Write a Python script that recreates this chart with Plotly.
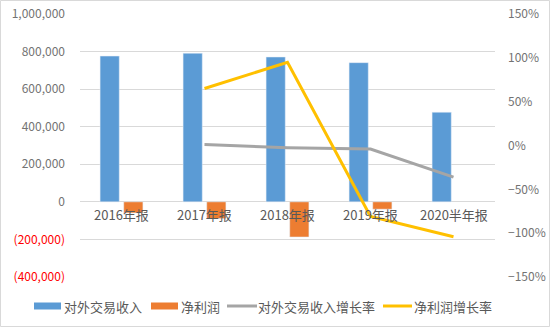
import plotly.graph_objects as go

categories = ["2016年报", "2017年报", "2018年报", "2019年报", "2020半年报"]
revenue = [776000, 791000, 771000, 741000, 477000]
net_profit = [-59000, -89000, -187000, -39000, None]
revenue_growth = [None, 0.01, -0.025, -0.04, -0.36]
profit_growth = [None, 0.65, 0.95, -0.81, -1.04]

series_names = ["对外交易收入", "净利润", "对外交易收入增长率", "净利润增长率"]
series_colors = ["#5B9BD5", "#ED7D31", "#A5A5A5", "#FFC000"]

left_ticks = [-400000, -200000, 0, 200000, 400000, 600000, 800000, 1000000]
left_text = ["<span style='color:#FF0000'>(400,000)</span>",
             "<span style='color:#FF0000'>(200,000)</span>",
             "0", "200,000", "400,000", "600,000", "800,000", "1,000,000"]

font = "Noto Sans CJK SC"
grey_text = "#595959"
tick_grey = "#737373"

fig = go.Figure()
fig.add_trace(go.Bar(x=categories, y=revenue, name=series_names[0],
                     marker_color=series_colors[0]))
fig.add_trace(go.Bar(x=categories, y=net_profit, name=series_names[1],
                     marker_color=series_colors[1]))
fig.add_trace(go.Scatter(x=categories, y=revenue_growth, name=series_names[2],
                         mode="lines", line=dict(color=series_colors[2], width=3),
                         yaxis="y2"))
fig.add_trace(go.Scatter(x=categories, y=profit_growth, name=series_names[3],
                         mode="lines", line=dict(color=series_colors[3], width=3),
                         yaxis="y2"))

# category labels sit on the zero line, spreadsheet style
for c in categories:
    fig.add_annotation(x=c, y=0, xref="x", yref="y", text=c, showarrow=False,
                       yanchor="top", yshift=-1,
                       font=dict(family=font, size=13, color=grey_text))

W, H = 552, 329
L, R, T, B = 80, 57, 14, 52
pw, ph = W - L - R, H - T - B


def px(x):
    return (x - L) / pw


def py(y):
    return (H - B - y) / ph


# chart border
fig.add_shape(type="rect", xref="paper", yref="paper",
              x0=px(0.5), x1=px(W - 2.5), y0=py(H - 2.5), y1=py(0.5),
              line=dict(color="#D9D9D9", width=1), layer="below")

# legend drawn along the bottom edge: swatch start, swatch end, text start
legend_slots = [(34, 61, 64), (151, 178, 181), (227, 257, 258), (383, 412, 414)]
legend_y = 306
for i, (x0, x1, tx) in enumerate(legend_slots):
    if i < 2:
        fig.add_shape(type="rect", xref="paper", yref="paper",
                      x0=px(x0), x1=px(x1), y0=py(legend_y + 3.5), y1=py(legend_y - 3.5),
                      fillcolor=series_colors[i], line=dict(width=0))
    else:
        fig.add_shape(type="line", xref="paper", yref="paper",
                      x0=px(x0), x1=px(x1), y0=py(legend_y), y1=py(legend_y),
                      line=dict(color=series_colors[i], width=3))
    fig.add_annotation(xref="paper", yref="paper", x=px(tx), y=py(legend_y),
                       text=series_names[i], showarrow=False,
                       xanchor="left", yanchor="middle", xshift=-2,
                       font=dict(family=font, size=13, color=grey_text))

fig.update_layout(
    width=W, height=H,
    margin=dict(l=L, r=R, t=T, b=B, autoexpand=False),
    paper_bgcolor="white", plot_bgcolor="white",
    barmode="group", bargap=0.43, bargroupgap=0.19,
    font=dict(family=font, size=12, color=grey_text),
    showlegend=False,
    xaxis=dict(showticklabels=False, showgrid=False, zeroline=False,
               showline=False, ticks="", automargin=False),
    yaxis=dict(range=[-400000, 1000000], tickvals=left_ticks, ticktext=left_text,
               showgrid=True, gridcolor="#D9D9D9", gridwidth=1,
               zeroline=True, zerolinecolor="#D9D9D9", zerolinewidth=1,
               ticks="", ticklabelstandoff=14, automargin=False,
               tickfont=dict(family=font, size=12, color=tick_grey)),
    yaxis2=dict(range=[-1.5, 1.5], dtick=0.5, tickformat=".0%",
                overlaying="y", side="right", showgrid=False, zeroline=False,
                ticks="", ticklabelstandoff=12, automargin=False,
                tickfont=dict(family=font, size=12, color=tick_grey)),
)

fig.write_html("out.html")
